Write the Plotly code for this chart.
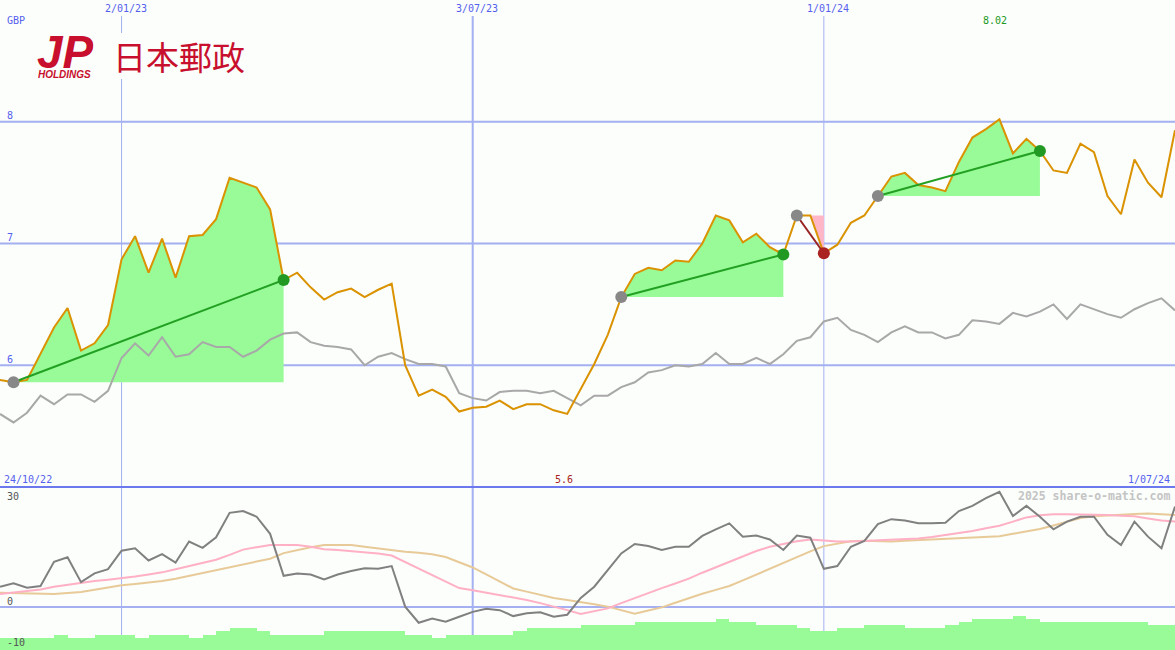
import plotly.graph_objects as go
import pandas as pd

W, H = 1175, 650

# ---------------- data ----------------
start_date = "2022-10-31"
n_weeks = 88
dates = pd.date_range(start_date, periods=n_weeks, freq="7D")

price = [5.88, 5.86, 5.88, 6.09, 6.31, 6.47, 6.12, 6.18, 6.33, 6.87,
         7.06, 6.76, 7.04, 6.72, 7.06, 7.07, 7.20, 7.54, 7.50, 7.46,
         7.28, 6.70, 6.76, 6.64, 6.54, 6.60, 6.63, 6.56, 6.62, 6.67,
         6.00, 5.75, 5.80, 5.74, 5.62, 5.65, 5.66, 5.71, 5.64, 5.68,
         5.68, 5.63, 5.60, 5.81, 6.01, 6.25, 6.56, 6.75, 6.80, 6.78,
         6.86, 6.85, 7.00, 7.23, 7.19, 7.01, 7.08, 6.97, 6.91, 7.23,
         7.23, 6.92, 6.99, 7.17, 7.23, 7.39, 7.55, 7.58, 7.48, 7.46,
         7.43, 7.67, 7.87, 7.94, 8.02, 7.74, 7.86, 7.76, 7.60, 7.58,
         7.82, 7.75, 7.39, 7.24, 7.69, 7.50, 7.38, 7.93]

benchmark = [5.60, 5.53, 5.61, 5.75, 5.68, 5.76, 5.76, 5.70, 5.79, 6.06,
             6.18, 6.08, 6.23, 6.07, 6.09, 6.19, 6.15, 6.15, 6.07, 6.12,
             6.21, 6.26, 6.27, 6.19, 6.16, 6.15, 6.13, 6.00, 6.07, 6.10,
             6.05, 6.01, 6.01, 5.99, 5.77, 5.73, 5.71, 5.78, 5.79, 5.79,
             5.77, 5.79, 5.73, 5.67, 5.75, 5.75, 5.82, 5.86, 5.94, 5.96,
             6.00, 5.99, 6.01, 6.10, 6.01, 6.01, 6.06, 6.01, 6.09, 6.20,
             6.23, 6.36, 6.39, 6.29, 6.25, 6.19, 6.27, 6.32, 6.27, 6.27,
             6.22, 6.25, 6.37, 6.36, 6.34, 6.43, 6.40, 6.44, 6.50, 6.38,
             6.50, 6.46, 6.42, 6.39, 6.46, 6.51, 6.55, 6.45]

momentum = [5.8, 6.8, 5.5, 6.0, 12.9, 14.2, 7.1, 9.6, 10.8, 16.1,
            16.8, 13.3, 15.1, 12.7, 18.7, 16.9, 19.9, 26.9, 27.4, 25.8,
            20.9, 8.9, 9.6, 9.3, 7.9, 9.3, 10.3, 11.1, 10.9, 11.7,
            0.1, -4.5, -3.3, -4.2, -2.8, -1.4, -0.5, -0.9, -2.6, -1.8,
            -1.5, -2.8, -2.2, 2.6, 5.8, 10.6, 15.3, 18.0, 17.4, 16.3,
            17.2, 17.2, 20.3, 22.2, 23.9, 20.1, 20.4, 19.3, 16.3, 20.4,
            19.8, 10.9, 11.7, 17.2, 18.9, 23.7, 25.1, 24.7, 23.9, 23.9,
            24.1, 27.4, 28.9, 31.1, 32.9, 26.0, 28.9, 25.8, 22.2, 24.4,
            25.8, 25.8, 20.6, 17.7, 24.4, 20.1, 16.8, 28.7]

mom_fast = [3.7, 4.1, 4.5, 5.0, 5.8, 6.4, 6.9, 7.4, 7.8, 8.2,
            8.7, 9.3, 9.9, 10.8, 11.7, 12.6, 13.5, 14.9, 16.4, 17.1,
            17.7, 17.7, 17.7, 17.2, 16.5, 16.3, 16.0, 15.8, 15.3, 14.7,
            12.8, 10.9, 9.0, 7.2, 5.4, 4.8, 4.1, 3.5, 2.9, 2.0,
            1.1, 0.2, -0.9, -2.0, -1.2, -0.4, 1.1, 2.6, 4.0, 5.4,
            6.7, 8.1, 9.8, 11.4, 13.0, 14.5, 16.0, 17.2, 18.0, 18.8,
            19.3, 19.0, 18.7, 18.7, 18.9, 18.9, 19.1, 19.3, 19.6, 20.0,
            20.5, 21.0, 21.7, 22.5, 23.2, 24.4, 25.6, 26.2, 26.5, 26.5,
            26.5, 26.4, 26.3, 26.1, 25.9, 25.3, 24.7, 24.4]

mom_slow = [4.1, 4.0, 3.9, 3.8, 3.7, 4.0, 4.3, 4.9, 5.6, 6.2,
            6.6, 7.0, 7.4, 8.1, 8.9, 9.7, 10.5, 11.3, 12.1, 12.9,
            13.8, 15.4, 16.3, 17.1, 17.7, 17.7, 17.7, 17.2, 16.7, 16.3,
            15.8, 15.5, 15.1, 14.3, 12.8, 11.3, 9.3, 7.3, 5.3, 4.4,
            3.5, 2.6, 2.0, 1.5, 0.8, 0.1, -0.9, -1.9, -1.0, -0.1,
            1.2, 2.6, 3.8, 4.9, 6.0, 7.6, 9.3, 10.9, 12.7, 14.3,
            15.9, 17.4, 18.1, 18.8, 18.9, 18.8, 18.7, 18.9, 19.1, 19.3,
            19.4, 19.6, 19.8, 20.0, 20.2, 20.9, 21.5, 22.3, 23.3, 24.4,
            25.4, 25.9, 26.2, 26.4, 26.6, 26.7, 26.5, 26.3]

volume_level = [4, 4, 4, 4, 5, 4, 4, 5, 5, 5,
                4, 5, 5, 5, 4, 5, 6, 7, 7, 6,
                5, 5, 5, 5, 6, 6, 6, 6, 6, 6,
                5, 5, 4, 5, 5, 5, 5, 5, 6, 7,
                7, 7, 7, 8, 8, 8, 8, 9, 9, 9,
                9, 9, 9, 10, 9, 9, 8, 8, 8, 7,
                6, 6, 7, 7, 8, 8, 8, 7, 7, 7,
                8, 9, 10, 10, 10, 11, 10, 9, 9, 9,
                9, 9, 9, 9, 9, 8, 8, 8]

trade_entry = [1, 46, 59, 65]
trade_exit = [21, 58, 61, 77]

main_yticks = [6, 7, 8]
sub_yticks = [30, 0, -10]
date_ticks = ["2023-01-02", "2023-07-03", "2024-01-01"]
date_tick_labels = ["2/01/23", "3/07/23", "1/01/24"]
date_tick_widths = [1, 2, 1]
first_label = "24/10/22"
last_label = "1/07/24"
currency = "GBP"

# ---------------- style ----------------
BG = "#FBFEFB"
GRID = "#A4B0F2"
BLUE_TXT = "#5560EE"
ORANGE = "#DA9200"
BENCH = "#A8A8A8"
GREEN_FILL = "#98FB98"
PINK_FILL = "#FFB6C6"
MARK_GRAY = "#888888"
MARK_GREEN = "#229922"
MARK_RED = "#AA2222"
MONO = "DejaVu Sans Mono"

split_px = 487
main_dom = [1 - split_px / H, 1.0]
sub_dom = [0.0, 1 - split_px / H]
px_per_unit = 3.5
zero_px = 607
sub_range = [-(H - zero_px) / px_per_unit, (zero_px - split_px) / px_per_unit]
vol_px = 3.1
vol_range = [0, (H - split_px) / vol_px]

fig = go.Figure()

# trade fills
for e, x in zip(trade_entry, trade_exit):
    xs = list(dates[e:x + 1])
    base = price[e]
    gain = price[x] >= base
    fig.add_trace(go.Scatter(x=xs, y=[base] * len(xs), mode="lines",
                             line=dict(width=0, color=BG), hoverinfo="skip",
                             showlegend=False))
    fig.add_trace(go.Scatter(x=xs, y=price[e:x + 1], mode="lines",
                             line=dict(width=0, color=BG), fill="tonexty",
                             fillcolor=GREEN_FILL if gain else PINK_FILL,
                             hoverinfo="skip", showlegend=False))

# benchmark and price
fig.add_trace(go.Scatter(x=dates, y=benchmark, mode="lines",
                         line=dict(color=BENCH, width=2), showlegend=False))
fig.add_trace(go.Scatter(x=dates, y=price, mode="lines",
                         line=dict(color=ORANGE, width=2), showlegend=False))

# trade connectors and markers
for e, x in zip(trade_entry, trade_exit):
    gain = price[x] >= price[e]
    fig.add_trace(go.Scatter(x=[dates[e], dates[x]], y=[price[e], price[x]],
                             mode="lines",
                             line=dict(color="#22A022" if gain else "#992222", width=2),
                             showlegend=False))
for e, x in zip(trade_entry, trade_exit):
    gain = price[x] >= price[e]
    fig.add_trace(go.Scatter(x=[dates[e]], y=[price[e]], mode="markers",
                             marker=dict(color=MARK_GRAY, size=12), showlegend=False))
    fig.add_trace(go.Scatter(x=[dates[x]], y=[price[x]], mode="markers",
                             marker=dict(color=MARK_GREEN if gain else MARK_RED, size=12),
                             showlegend=False))

# lower panel
fig.add_trace(go.Scatter(x=dates, y=mom_slow, mode="lines", yaxis="y2",
                         line=dict(color="#E8CA98", width=2), showlegend=False))
fig.add_trace(go.Scatter(x=dates, y=mom_fast, mode="lines", yaxis="y2",
                         line=dict(color="#FFB0C4", width=2), showlegend=False))
fig.add_trace(go.Scatter(x=dates, y=momentum, mode="lines", yaxis="y2",
                         line=dict(color="#808080", width=2), showlegend=False))
fig.add_trace(go.Bar(x=dates + pd.Timedelta(hours=84), y=volume_level, yaxis="y3",
                     width=7 * 86400000, marker=dict(color=GREEN_FILL, line=dict(width=0)),
                     showlegend=False))

shapes = []
for v in main_yticks:
    shapes.append(dict(type="line", xref="paper", yref="y", x0=0, x1=1, y0=v, y1=v,
                       line=dict(color=GRID, width=2), layer="below"))
shapes.append(dict(type="line", xref="paper", yref="y2", x0=0, x1=1, y0=0, y1=0,
                   line=dict(color=GRID, width=2), layer="below"))
for d, wdt in zip(date_ticks, date_tick_widths):
    shapes.append(dict(type="line", xref="x", yref="paper", x0=d, x1=d,
                       y0=0, y1=1 - 16 / H, line=dict(color=GRID, width=wdt),
                       layer="below"))
shapes.append(dict(type="line", xref="paper", yref="paper", x0=0, x1=1,
                   y0=1 - split_px / H, y1=1 - split_px / H,
                   line=dict(color="#6B78EE", width=2), layer="above"))
# logo backing
shapes.append(dict(type="rect", xref="paper", yref="paper", x0=30 / W, x1=250 / W,
                   y0=1 - 79 / H, y1=1 - 33 / H, fillcolor=BG,
                   line=dict(width=0), layer="above"))

ann = []
def txt(text, x, y, size=10, color=BLUE_TXT, xanchor="left", family=MONO, **kw):
    d = dict(text=text, x=x, y=y, xref=kw.pop("xref", "paper"), yref=kw.pop("yref", "paper"),
             showarrow=False, xanchor=xanchor, yanchor=kw.pop("yanchor", "middle"),
             font=dict(family=family, size=size, color=color))
    d.update(kw)
    ann.append(d)

for d, lab in zip(date_ticks, date_tick_labels):
    txt(lab, d, 1 - 9 / H, xref="x", xanchor="center", xshift=4)
txt(currency, 5 / W, 1 - 20 / H)
imax = price.index(max(price))
imin = price.index(min(price))
txt(f"{max(price):g}", dates[imax], 1 - 20 / H, xref="x", xanchor="center",
    color=MARK_GREEN, xshift=-4)
txt(f"{min(price):g}", dates[imin], 1 - 479 / H, xref="x", xanchor="center",
    color=MARK_RED, xshift=-3)
for v in main_yticks:
    txt(str(v), 5 / W, v, yref="y", yshift=6)
for v in sub_yticks:
    txt(str(v), 5 / W, v, yref="y2", yshift=6 if v > sub_yticks[-1] else 0,
        color="#555555")
txt(first_label, 2 / W, 1 - 479 / H)
txt(last_label, 1172 / W, 1 - 479 / H, xanchor="right")
txt("<b>2025 share-o-matic.com</b>", 1172 / W, 1 - 496 / H, size=11.5,
    color="#C4C4C4", xanchor="right")

# logo
LOGO_RED = "#C8102E"
txt("<b><i>JP</i></b>", 35 / W, 1 - 51 / H, size=46, color=LOGO_RED,
    family="Liberation Sans", height=33, yanchor="middle")
txt("<b><i>HOLDINGS</i></b>", 36 / W, 1 - 74 / H, size=10, color=LOGO_RED,
    family="Liberation Sans", height=10)
txt("日本郵政", 111 / W, 1 - 56 / H, size=33, color=LOGO_RED,
    family="Noto Sans CJK JP")

fig.update_layout(
    width=W, height=H,
    margin=dict(l=0, r=0, t=0, b=0),
    paper_bgcolor=BG, plot_bgcolor=BG,
    showlegend=False, bargap=0,
    xaxis=dict(type="date", range=[dates[0], dates[-1]], showgrid=False,
               showticklabels=False, zeroline=False, showline=False, ticks=""),
    yaxis=dict(domain=main_dom, range=[5, 9], showgrid=False, showticklabels=False,
               zeroline=False, showline=False, ticks=""),
    yaxis2=dict(domain=sub_dom, range=sub_range, showgrid=False, showticklabels=False,
                zeroline=False, showline=False, ticks=""),
    yaxis3=dict(overlaying="y2", range=vol_range, showgrid=False,
                showticklabels=False, zeroline=False, showline=False, ticks=""),
    shapes=shapes, annotations=ann,
)

fig.write_html(
    "out.html",
    config={"displayModeBar": False},
    post_script="document.body.style.margin='0';document.body.style.background='" + BG + "';",
)
